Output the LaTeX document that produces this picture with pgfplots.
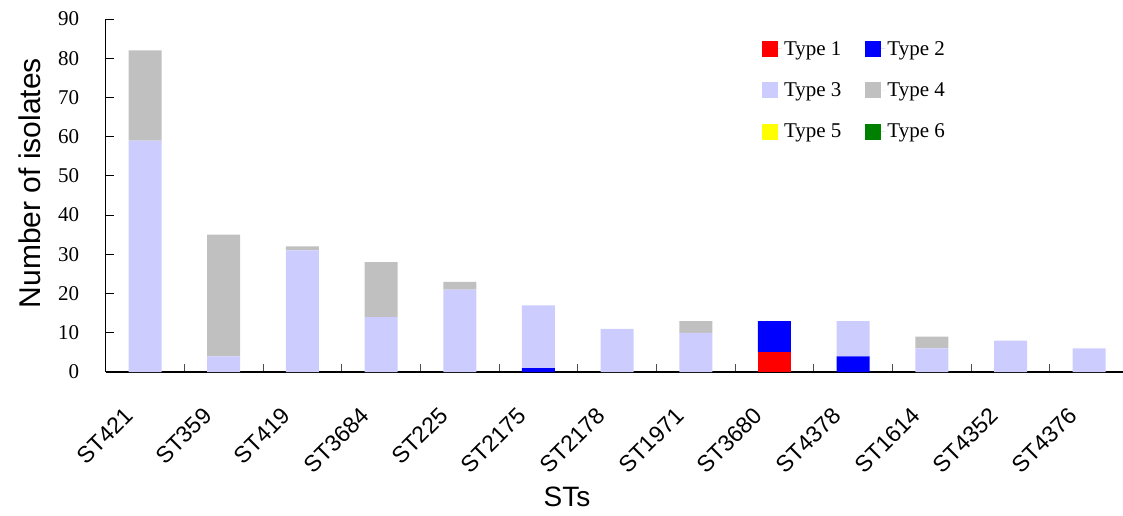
\documentclass[border=0pt]{standalone}
\usepackage{fontspec}
\setmainfont{Liberation Serif}
\setsansfont{Liberation Sans}
\usepackage{pgfplots}
\pgfplotsset{compat=1.18}

\definecolor{typeA}{HTML}{FF0000}
\definecolor{typeB}{HTML}{0000FF}
\definecolor{typeC}{HTML}{CCCCFF}
\definecolor{typeD}{HTML}{C0C0C0}
\definecolor{typeE}{HTML}{FFFF00}
\definecolor{typeF}{HTML}{008000}

\begin{document}
\begin{tikzpicture}[x=1pt,y=1pt]
\begin{axis}[
    at={(105.7pt,143pt)}, anchor=south west,
    scale only axis,
    width=1017.3pt, height=353pt,
    ybar stacked, bar width=33pt, bar shift=0pt,
    xmin=-0.5, xmax=12.43,
    ymin=0, ymax=90,
    ytick={0,10,...,90},
    xtick={0,...,12},
    xticklabels={ST421,ST359,ST419,ST3684,ST225,ST2175,ST2178,ST1971,ST3680,ST4378,ST1614,ST4352,ST4376},
    minor xtick={0.5,1.5,...,11.5},
    axis x line*=bottom, axis y line*=left,
    axis line style={line width=1.2pt,-},
    major tick length=8pt, minor tick length=8pt,
    tick align=inside,
    xtick style={draw=none},
    minor x tick style={draw=black!70, line width=1pt},
    ytick style={draw=black, line width=1pt},
    /pgf/number format/assume math mode=true,
    yticklabel style={font=\fontsize{21}{25}\selectfont, xshift=-23pt},
    xticklabel style={font=\sffamily\fontsize{23}{27}\selectfont, xshift=-22pt, yshift=-29pt, rotate=45, anchor=north east},
    xlabel={STs},
    ylabel={Number of isolates},
    xlabel style={font=\sffamily\fontsize{28}{32}\selectfont, at={(0.4535,-0.354)}, anchor=center},
    ylabel style={font=\sffamily\fontsize{30}{34}\selectfont, at={(-0.0744,0.535)}, anchor=center},
    legend style={draw=none, fill=none, at={(0.642,0.949)}, anchor=north west,
        font=\fontsize{21}{25}\selectfont, row sep=22pt},
    legend columns=2,
    legend cell align=left,
    /tikz/every even column/.append style={column sep=22pt},
    legend image code/.code={\fill[#1] (0pt,-8pt) rectangle (16pt,8pt); \path (0pt,0pt) -- (20pt,0pt);},
    every axis plot/.append style={draw=none},
]
\addplot[fill=typeA] coordinates {(0,0) (1,0) (2,0) (3,0) (4,0) (5,0) (6,0) (7,0) (8,5) (9,0) (10,0) (11,0) (12,0)};
\addplot[fill=typeB] coordinates {(0,0) (1,0) (2,0) (3,0) (4,0) (5,1) (6,0) (7,0) (8,8) (9,4) (10,0) (11,0) (12,0)};
\addplot[fill=typeC] coordinates {(0,59) (1,4) (2,31) (3,14) (4,21) (5,16) (6,11) (7,10) (8,0) (9,9) (10,6) (11,8) (12,6)};
\addplot[fill=typeD] coordinates {(0,23) (1,31) (2,1) (3,14) (4,2) (5,0) (6,0) (7,3) (8,0) (9,0) (10,3) (11,0) (12,0)};
\addplot[fill=typeE] coordinates {(0,0) (1,0) (2,0) (3,0) (4,0) (5,0) (6,0) (7,0) (8,0) (9,0) (10,0) (11,0) (12,0)};
\addplot[fill=typeF] coordinates {(0,0) (1,0) (2,0) (3,0) (4,0) (5,0) (6,0) (7,0) (8,0) (9,0) (10,0) (11,0) (12,0)};
\legend{Type 1,Type 2,Type 3,Type 4,Type 5,Type 6}
\end{axis}
\pgfresetboundingbox
\path (0pt,0pt) rectangle (1123pt,515pt);
\end{tikzpicture}
\end{document}
